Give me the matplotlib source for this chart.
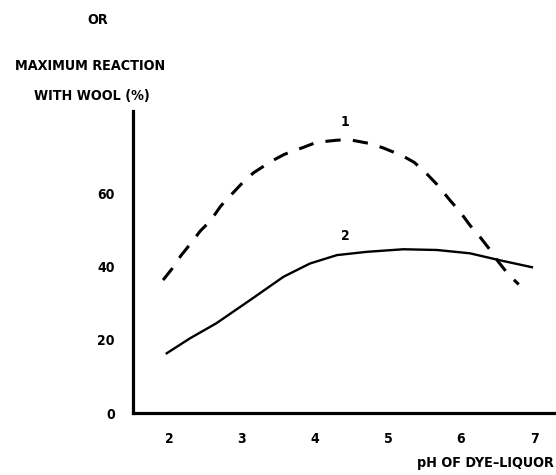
import matplotlib
matplotlib.use("Agg")
import matplotlib.pyplot as plt

# Curve 1 (dashed)
ph1 = [1.92, 2.04, 2.17, 2.30, 2.43, 2.57, 2.71, 2.84, 3.02, 3.16, 3.41, 3.58, 3.84, 4.02,
       4.32, 4.50, 4.74, 4.93, 5.20, 5.36, 5.54, 5.67, 5.86, 5.98, 6.12, 6.25, 6.41, 6.51, 6.65, 6.79]
r1 = [36.3, 39.3, 43.1, 46.3, 49.7, 52.5, 56.5, 59.3, 63.1, 65.6, 68.8, 70.6, 72.5, 73.9,
      74.5, 74.5, 73.6, 72.4, 70.2, 68.4, 65.1, 62.4, 57.8, 55.1, 51.3, 48.3, 44.2, 41.3, 37.8, 35.1]
# Curve 2 (solid)
ph2 = [1.97, 2.29, 2.65, 3.11, 3.57, 3.93, 4.30, 4.71, 5.21, 5.67, 6.12, 6.53, 6.97]
r2 = [16.3, 20.4, 24.5, 30.8, 37.2, 40.8, 43.1, 44.0, 44.7, 44.5, 43.6, 41.7, 39.8]

xticks = [2, 3, 4, 5, 6, 7]
yticks = [0, 20, 40, 60]

plt.rcParams['font.family'] = ['DejaVu Sans']
plt.rcParams['font.weight'] = 'bold'
plt.rcParams['font.stretch'] = 'condensed'

fig = plt.figure(figsize=(5.56, 4.75), dpi=100)
ax = fig.add_axes([0.239, 0.1305, 0.761, 0.6355])

ax.plot(ph1, r1, color='black', lw=2.2, linestyle=(0, (5, 4)),
        solid_capstyle='butt', dash_capstyle='butt', solid_joinstyle='round')
ax.plot(ph2, r2, color='black', lw=1.7, solid_joinstyle='round')

ax.set_xlim(1.507, 7.30)
ax.set_ylim(0, 82.4)
ax.set_xticks(xticks)
ax.set_yticks(yticks)
ax.tick_params(length=0, labelsize=10)
ax.tick_params(axis='x', pad=14)
ax.tick_params(axis='y', pad=13)
for lab in ax.get_xticklabels() + ax.get_yticklabels():
    lab.set_fontweight('bold')
    lab.set_fontstretch('condensed')

for s in ['top', 'right']:
    ax.spines[s].set_visible(False)
for s in ['left', 'bottom']:
    ax.spines[s].set_linewidth(2.3)

ax.text(4.41, 77.5, '1', ha='center', va='bottom', fontsize=10, fontweight='bold', fontstretch='condensed')
ax.text(4.41, 46.5, '2', ha='center', va='bottom', fontsize=10, fontweight='bold', fontstretch='condensed')

kw = dict(fontsize=10.3, fontweight='bold', fontstretch='condensed')
fig.text(98/556, 1 - 20/475, 'OR', ha='center', va='center', **kw)
fig.text(90/556, 1 - 66/475, 'MAXIMUM REACTION', ha='center', va='center', **kw)
fig.text(92/556, 1 - 96/475, 'WITH WOOL (%)', ha='center', va='center', **kw)
fig.text(554/556, 1 - 463/475, 'pH OF DYE\u2013LIQUOR', ha='right', va='center', **kw)

fig.savefig('out.png', dpi=100)
